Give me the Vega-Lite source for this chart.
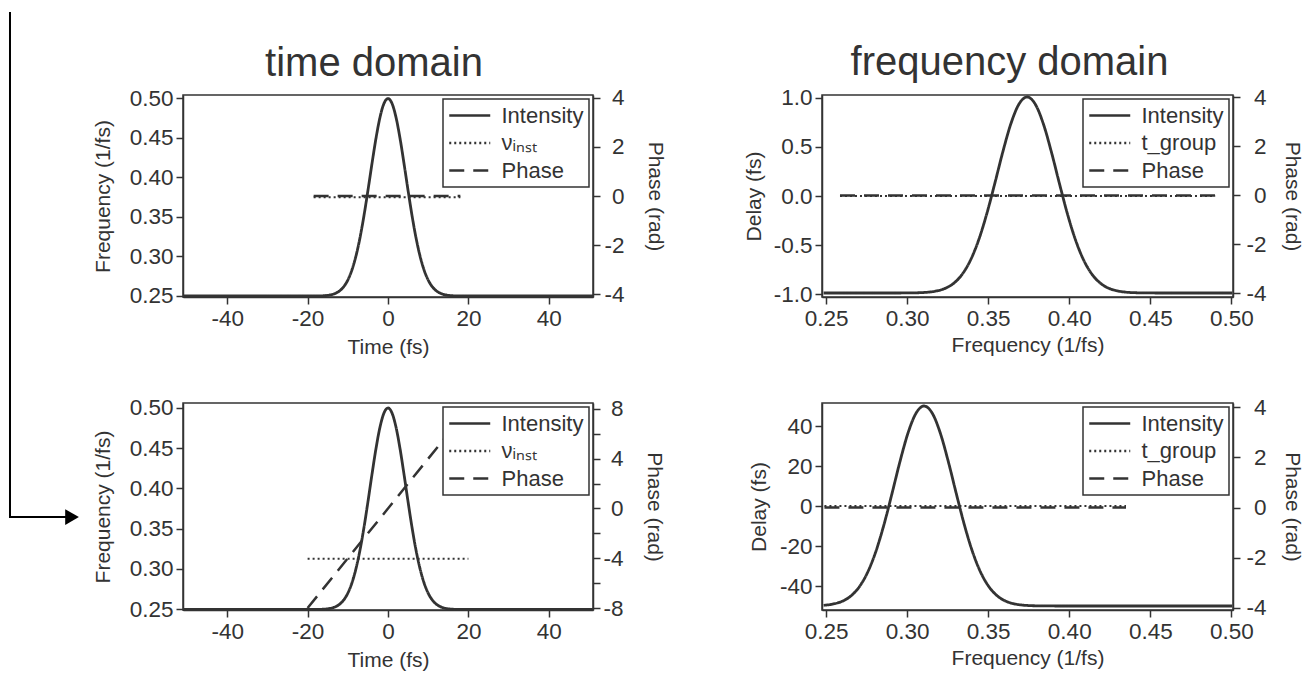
{
  "$schema": "https://vega.github.io/schema/vega-lite/v6.json",
  "padding": {"left": 5, "top": 7, "right": 0, "bottom": 0},
  "background": "white",
  "columns": 2,
  "spacing": {"row": 106, "column": 229},
  "bounds": "flush",
  "align": "each",
  "resolve": {"scale": {"strokeDash": "independent"}, "legend": {"strokeDash": "independent"}},
  "config": {
    "font": "Liberation Sans",
    "view": {"stroke": "#333", "strokeWidth": 1.5},
    "title": {"fontSize": 40, "fontWeight": "normal", "color": "#333", "anchor": "middle", "offset": 3},
    "axis": {"grid": false, "domainColor": "#333", "domainWidth": 1.5, "tickColor": "#333", "tickWidth": 1.5, "tickSize": 7, "labelFontSize": 22.5, "labelColor": "#333", "labelPadding": 3, "titleFontSize": 21, "titleFontWeight": "normal", "titleColor": "#333", "labelFlush": false, "labelOverlap": false, "labelExpr": "replace(datum.label, '−', '-')"},
    "legend": {"orient": "top-right", "offset": 4, "fillColor": "white", "strokeColor": "#333", "strokeWidth": 1.5, "padding": 5, "labelFontSize": 22, "labelColor": "#333", "symbolType": "M-1,0H3", "symbolSize": 420, "symbolStrokeWidth": 2.5, "symbolStrokeColor": "#333", "rowPadding": 4.5, "labelOffset": 30.5, "cornerRadius": 0, "labelLimit": 300},
    "line": {"color": "#333", "strokeWidth": 2.5}
  },
  "concat": [
    {
      "width": 410, "height": 202,
      "title": {"text": "time domain", "dx": -14},
      "encoding": {"x": {"field": "x", "type": "quantitative", "scale": {"domain": [-51, 51], "nice": false, "zero": false}, "axis": {"title": "Time (fs)", "values": [-40, -20, 0, 20, 40], "titlePadding": 7, "labelExpr": "replace(datum.label, '−', '-')"}}},
      "layer": [
        {
          "data": {"values": [{"x": -18.5, "y": 0, "series": "Phase"}, {"x": 18, "y": 0, "series": "Phase"}]},
          "mark": {"type": "line"},
          "encoding": {
            "y": {"field": "y", "type": "quantitative", "scale": {"domain": [-4.11, 4.11], "nice": false, "zero": false}, "axis": {"orient": "right", "title": "Phase (rad)", "values": [-4, -2, 0, 2, 4], "labelAlign": "right", "labelPadding": 24, "titlePadding": 20, "labelExpr": "replace(datum.label, '−', '-')"}},
            "strokeDash": {"field": "series", "type": "nominal", "scale": {"domain": ["Intensity", "νᵢₙₛₜ", "Phase"], "range": [[1, 0], [2, 3], [15, 9]]}, "legend": {"title": null, "zindex": 1}}
          }
        },
        {
          "data": {"values": [
            {"x": -51, "y": 0, "series": "Intensity"}, {"x": -30, "y": 0, "series": "Intensity"}, {"x": -20, "y": 0, "series": "Intensity"},
            {"x": -18, "y": 0.0003, "series": "Intensity"}, {"x": -16, "y": 0.0016, "series": "Intensity"}, {"x": -15, "y": 0.0035, "series": "Intensity"},
            {"x": -14, "y": 0.0072, "series": "Intensity"}, {"x": -13, "y": 0.0143, "series": "Intensity"}, {"x": -12, "y": 0.0267, "series": "Intensity"},
            {"x": -11, "y": 0.0477, "series": "Intensity"}, {"x": -10, "y": 0.0808, "series": "Intensity"}, {"x": -9, "y": 0.1304, "series": "Intensity"},
            {"x": -8, "y": 0.2, "series": "Intensity"}, {"x": -7, "y": 0.2916, "series": "Intensity"}, {"x": -6, "y": 0.4044, "series": "Intensity"},
            {"x": -5, "y": 0.5333, "series": "Intensity"}, {"x": -4, "y": 0.6687, "series": "Intensity"}, {"x": -3, "y": 0.7974, "series": "Intensity"},
            {"x": -2, "y": 0.9043, "series": "Intensity"}, {"x": -1, "y": 0.9752, "series": "Intensity"}, {"x": 0, "y": 1, "series": "Intensity"},
            {"x": 1, "y": 0.9752, "series": "Intensity"}, {"x": 2, "y": 0.9043, "series": "Intensity"}, {"x": 3, "y": 0.7974, "series": "Intensity"},
            {"x": 4, "y": 0.6687, "series": "Intensity"}, {"x": 5, "y": 0.5333, "series": "Intensity"}, {"x": 6, "y": 0.4044, "series": "Intensity"},
            {"x": 7, "y": 0.2916, "series": "Intensity"}, {"x": 8, "y": 0.2, "series": "Intensity"}, {"x": 9, "y": 0.1304, "series": "Intensity"},
            {"x": 10, "y": 0.0808, "series": "Intensity"}, {"x": 11, "y": 0.0477, "series": "Intensity"}, {"x": 12, "y": 0.0267, "series": "Intensity"},
            {"x": 13, "y": 0.0143, "series": "Intensity"}, {"x": 14, "y": 0.0072, "series": "Intensity"}, {"x": 15, "y": 0.0035, "series": "Intensity"},
            {"x": 16, "y": 0.0016, "series": "Intensity"}, {"x": 18, "y": 0.0003, "series": "Intensity"}, {"x": 20, "y": 0, "series": "Intensity"},
            {"x": 30, "y": 0, "series": "Intensity"}, {"x": 51, "y": 0, "series": "Intensity"}
          ]},
          "mark": {"type": "line", "interpolate": "monotone", "strokeWidth": 2.8},
          "encoding": {
            "y": {"field": "y", "type": "quantitative", "scale": {"domain": [-0.005, 1.018], "nice": false, "zero": false}, "axis": null},
            "strokeDash": {"field": "series", "type": "nominal", "scale": {"domain": ["Intensity", "νᵢₙₛₜ", "Phase"], "range": [[1, 0], [2, 3], [15, 9]]}, "legend": {"title": null, "zindex": 1}}
          }
        },
        {
          "data": {"values": [{"x": -18.5, "y": 0.375, "series": "νᵢₙₛₜ"}, {"x": 18, "y": 0.375, "series": "νᵢₙₛₜ"}]},
          "mark": {"type": "line", "strokeWidth": 2},
          "encoding": {
            "y": {"field": "y", "type": "quantitative", "scale": {"domain": [0.2487, 0.5044], "nice": false, "zero": false}, "axis": {"orient": "left", "title": "Frequency (1/fs)", "values": [0.25, 0.3, 0.35, 0.4, 0.45, 0.5], "format": ".2f", "titlePadding": 16}},
            "strokeDash": {"field": "series", "type": "nominal", "scale": {"domain": ["Intensity", "νᵢₙₛₜ", "Phase"], "range": [[1, 0], [2, 3], [15, 9]]}, "legend": {"title": null, "zindex": 1}}
          }
        }
      ],
      "resolve": {"scale": {"y": "independent"}}
    },
    {
      "width": 411, "height": 202,
      "title": {"text": "frequency domain", "dx": -18},
      "encoding": {"x": {"field": "x", "type": "quantitative", "scale": {"domain": [0.2475, 0.501], "nice": false, "zero": false}, "axis": {"title": "Frequency (1/fs)", "values": [0.25, 0.3, 0.35, 0.4, 0.45, 0.5], "format": ".2f", "titlePadding": 5}}},
      "layer": [
        {
          "data": {"values": [{"x": 0.2586, "y": 0, "series": "Phase"}, {"x": 0.49, "y": 0, "series": "Phase"}]},
          "mark": {"type": "line"},
          "encoding": {
            "y": {"field": "y", "type": "quantitative", "scale": {"domain": [-4.15, 4.1], "nice": false, "zero": false}, "axis": {"orient": "right", "title": "Phase (rad)", "values": [-4, -2, 0, 2, 4], "labelAlign": "right", "labelPadding": 26, "titlePadding": 15, "labelExpr": "replace(datum.label, '−', '-')"}},
            "strokeDash": {"field": "series", "type": "nominal", "scale": {"domain": ["Intensity", "t_group", "Phase"], "range": [[1, 0], [2, 3], [15, 9]]}, "legend": {"title": null, "zindex": 1}}
          }
        },
        {
          "data": {"values": [
            {"x": 0.2485, "y": 0, "series": "Intensity"}, {"x": 0.29, "y": 0, "series": "Intensity"}, {"x": 0.299, "y": 0.0003, "series": "Intensity"},
            {"x": 0.304, "y": 0.0008, "series": "Intensity"}, {"x": 0.309, "y": 0.002, "series": "Intensity"}, {"x": 0.314, "y": 0.0051, "series": "Intensity"},
            {"x": 0.319, "y": 0.0119, "series": "Intensity"}, {"x": 0.324, "y": 0.0256, "series": "Intensity"}, {"x": 0.329, "y": 0.0514, "series": "Intensity"},
            {"x": 0.334, "y": 0.0959, "series": "Intensity"}, {"x": 0.339, "y": 0.1661, "series": "Intensity"}, {"x": 0.344, "y": 0.2674, "series": "Intensity"},
            {"x": 0.349, "y": 0.4002, "series": "Intensity"}, {"x": 0.354, "y": 0.5565, "series": "Intensity"}, {"x": 0.359, "y": 0.7192, "series": "Intensity"},
            {"x": 0.364, "y": 0.8637, "series": "Intensity"}, {"x": 0.369, "y": 0.964, "series": "Intensity"}, {"x": 0.374, "y": 1, "series": "Intensity"},
            {"x": 0.379, "y": 0.964, "series": "Intensity"}, {"x": 0.384, "y": 0.8637, "series": "Intensity"}, {"x": 0.389, "y": 0.7192, "series": "Intensity"},
            {"x": 0.394, "y": 0.5565, "series": "Intensity"}, {"x": 0.399, "y": 0.4002, "series": "Intensity"}, {"x": 0.404, "y": 0.2674, "series": "Intensity"},
            {"x": 0.409, "y": 0.1661, "series": "Intensity"}, {"x": 0.414, "y": 0.0959, "series": "Intensity"}, {"x": 0.419, "y": 0.0514, "series": "Intensity"},
            {"x": 0.424, "y": 0.0256, "series": "Intensity"}, {"x": 0.429, "y": 0.0119, "series": "Intensity"}, {"x": 0.434, "y": 0.0051, "series": "Intensity"},
            {"x": 0.439, "y": 0.002, "series": "Intensity"}, {"x": 0.444, "y": 0.0008, "series": "Intensity"}, {"x": 0.449, "y": 0.0003, "series": "Intensity"},
            {"x": 0.46, "y": 0, "series": "Intensity"}, {"x": 0.5005, "y": 0, "series": "Intensity"}
          ]},
          "mark": {"type": "line", "interpolate": "monotone", "strokeWidth": 2.8},
          "encoding": {
            "y": {"field": "y", "type": "quantitative", "scale": {"domain": [-0.0204, 1.0102], "nice": false, "zero": false}, "axis": null},
            "strokeDash": {"field": "series", "type": "nominal", "scale": {"domain": ["Intensity", "t_group", "Phase"], "range": [[1, 0], [2, 3], [15, 9]]}, "legend": {"title": null, "zindex": 1}}
          }
        },
        {
          "data": {"values": [{"x": 0.2586, "y": 0, "series": "t_group"}, {"x": 0.49, "y": 0, "series": "t_group"}]},
          "mark": {"type": "line", "strokeWidth": 2},
          "encoding": {
            "y": {"field": "y", "type": "quantitative", "scale": {"domain": [-1.03, 1.03], "nice": false, "zero": false}, "axis": {"orient": "left", "title": "Delay (fs)", "values": [-1, -0.5, 0, 0.5, 1], "format": ".1f", "titlePadding": 9}},
            "strokeDash": {"field": "series", "type": "nominal", "scale": {"domain": ["Intensity", "t_group", "Phase"], "range": [[1, 0], [2, 3], [15, 9]]}, "legend": {"title": null, "zindex": 1}}
          }
        }
      ],
      "resolve": {"scale": {"y": "independent"}}
    },
    {
      "width": 410, "height": 207,
      "encoding": {"x": {"field": "x", "type": "quantitative", "scale": {"domain": [-51, 51], "nice": false, "zero": false}, "axis": {"title": "Time (fs)", "values": [-40, -20, 0, 20, 40], "titlePadding": 7, "labelExpr": "replace(datum.label, '−', '-')"}}},
      "layer": [
        {
          "data": {"values": [{"x": -20, "y": -8, "series": "Phase"}, {"x": -10, "y": -4, "series": "Phase"}, {"x": 0, "y": 0, "series": "Phase"}, {"x": 10, "y": 4, "series": "Phase"}, {"x": 20, "y": 8, "series": "Phase"}]},
          "mark": {"type": "line"},
          "encoding": {
            "y": {"field": "y", "type": "quantitative", "scale": {"domain": [-8.16, 8.48], "nice": false, "zero": false}, "axis": {"orient": "right", "title": "Phase (rad)", "values": [-8, -6, -4, -2, 0, 2, 4, 6, 8], "labelExpr": "datum.value % 4 === 0 ? replace(datum.label, '−', '-') : ''", "labelAlign": "right", "labelPadding": 23, "titlePadding": 20}},
            "strokeDash": {"field": "series", "type": "nominal", "scale": {"domain": ["Intensity", "νᵢₙₛₜ", "Phase"], "range": [[1, 0], [2, 3], [15, 9]]}, "legend": {"title": null, "zindex": 1}}
          }
        },
        {
          "data": {"values": [
            {"x": -51, "y": 0, "series": "Intensity"}, {"x": -30, "y": 0, "series": "Intensity"}, {"x": -20, "y": 0, "series": "Intensity"},
            {"x": -18, "y": 0.0003, "series": "Intensity"}, {"x": -16, "y": 0.0016, "series": "Intensity"}, {"x": -15, "y": 0.0035, "series": "Intensity"},
            {"x": -14, "y": 0.0072, "series": "Intensity"}, {"x": -13, "y": 0.0143, "series": "Intensity"}, {"x": -12, "y": 0.0267, "series": "Intensity"},
            {"x": -11, "y": 0.0477, "series": "Intensity"}, {"x": -10, "y": 0.0808, "series": "Intensity"}, {"x": -9, "y": 0.1304, "series": "Intensity"},
            {"x": -8, "y": 0.2, "series": "Intensity"}, {"x": -7, "y": 0.2916, "series": "Intensity"}, {"x": -6, "y": 0.4044, "series": "Intensity"},
            {"x": -5, "y": 0.5333, "series": "Intensity"}, {"x": -4, "y": 0.6687, "series": "Intensity"}, {"x": -3, "y": 0.7974, "series": "Intensity"},
            {"x": -2, "y": 0.9043, "series": "Intensity"}, {"x": -1, "y": 0.9752, "series": "Intensity"}, {"x": 0, "y": 1, "series": "Intensity"},
            {"x": 1, "y": 0.9752, "series": "Intensity"}, {"x": 2, "y": 0.9043, "series": "Intensity"}, {"x": 3, "y": 0.7974, "series": "Intensity"},
            {"x": 4, "y": 0.6687, "series": "Intensity"}, {"x": 5, "y": 0.5333, "series": "Intensity"}, {"x": 6, "y": 0.4044, "series": "Intensity"},
            {"x": 7, "y": 0.2916, "series": "Intensity"}, {"x": 8, "y": 0.2, "series": "Intensity"}, {"x": 9, "y": 0.1304, "series": "Intensity"},
            {"x": 10, "y": 0.0808, "series": "Intensity"}, {"x": 11, "y": 0.0477, "series": "Intensity"}, {"x": 12, "y": 0.0267, "series": "Intensity"},
            {"x": 13, "y": 0.0143, "series": "Intensity"}, {"x": 14, "y": 0.0072, "series": "Intensity"}, {"x": 15, "y": 0.0035, "series": "Intensity"},
            {"x": 16, "y": 0.0016, "series": "Intensity"}, {"x": 18, "y": 0.0003, "series": "Intensity"}, {"x": 20, "y": 0, "series": "Intensity"},
            {"x": 30, "y": 0, "series": "Intensity"}, {"x": 51, "y": 0, "series": "Intensity"}
          ]},
          "mark": {"type": "line", "interpolate": "monotone", "strokeWidth": 2.8},
          "encoding": {
            "y": {"field": "y", "type": "quantitative", "scale": {"domain": [-0.0025, 1.0248], "nice": false, "zero": false}, "axis": null},
            "strokeDash": {"field": "series", "type": "nominal", "scale": {"domain": ["Intensity", "νᵢₙₛₜ", "Phase"], "range": [[1, 0], [2, 3], [15, 9]]}, "legend": {"title": null, "zindex": 1}}
          }
        },
        {
          "layer": [
            {
              "data": {"values": [{"x": -20, "y": 0.3125, "series": "νᵢₙₛₜ"}, {"x": 20, "y": 0.3125, "series": "νᵢₙₛₜ"}]},
              "mark": {"type": "line", "strokeWidth": 2},
              "encoding": {
                "y": {"field": "y", "type": "quantitative", "scale": {"domain": [0.2488, 0.5062], "nice": false, "zero": false}, "axis": {"orient": "left", "title": "Frequency (1/fs)", "values": [0.25, 0.3, 0.35, 0.4, 0.45, 0.5], "format": ".2f", "titlePadding": 16}},
                "strokeDash": {"field": "series", "type": "nominal", "scale": {"domain": ["Intensity", "νᵢₙₛₜ", "Phase"], "range": [[1, 0], [2, 3], [15, 9]]}, "legend": {"title": null, "zindex": 1}}
              }
            },
            {
              "data": {"values": [{"x": -94.04, "y": 0.9924, "o": 0}, {"x": -94.04, "y": 0.3644, "o": 1}, {"x": -80, "y": 0.3644, "o": 2}]},
              "mark": {"type": "line", "color": "black", "strokeWidth": 2, "clip": false},
              "encoding": {"y": {"field": "y", "type": "quantitative", "title": "Frequency (1/fs)"}, "order": {"field": "o", "type": "quantitative"}}
            },
            {
              "data": {"values": [{"x": -78.6, "y": 0.3644}]},
              "mark": {"type": "point", "shape": "triangle-right", "filled": true, "color": "black", "opacity": 1, "size": 250, "clip": false},
              "encoding": {"y": {"field": "y", "type": "quantitative", "title": "Frequency (1/fs)"}}
            }
          ]
        }
      ],
      "resolve": {"scale": {"y": "independent"}}
    },
    {
      "width": 411, "height": 207,
      "encoding": {"x": {"field": "x", "type": "quantitative", "scale": {"domain": [0.2475, 0.501], "nice": false, "zero": false}, "axis": {"title": "Frequency (1/fs)", "values": [0.25, 0.3, 0.35, 0.4, 0.45, 0.5], "format": ".2f", "titlePadding": 5}}},
      "layer": [
        {
          "data": {"values": [{"x": 0.249, "y": 0, "series": "Phase"}, {"x": 0.435, "y": 0, "series": "Phase"}]},
          "mark": {"type": "line"},
          "encoding": {
            "y": {"field": "y", "type": "quantitative", "scale": {"domain": [-4.08, 4.16], "nice": false, "zero": false}, "axis": {"orient": "right", "title": "Phase (rad)", "values": [-4, -2, 0, 2, 4], "labelAlign": "right", "labelPadding": 26, "titlePadding": 15, "labelExpr": "replace(datum.label, '−', '-')"}},
            "strokeDash": {"field": "series", "type": "nominal", "scale": {"domain": ["Intensity", "t_group", "Phase"], "range": [[1, 0], [2, 3], [15, 9]]}, "legend": {"title": null, "zindex": 1}}
          }
        },
        {
          "data": {"values": [
            {"x": 0.2485, "y": 0.0036, "series": "Intensity"}, {"x": 0.2505, "y": 0.0051, "series": "Intensity"}, {"x": 0.2555, "y": 0.0119, "series": "Intensity"},
            {"x": 0.2605, "y": 0.0256, "series": "Intensity"}, {"x": 0.2655, "y": 0.0514, "series": "Intensity"}, {"x": 0.2705, "y": 0.0959, "series": "Intensity"},
            {"x": 0.2755, "y": 0.1661, "series": "Intensity"}, {"x": 0.2805, "y": 0.2674, "series": "Intensity"}, {"x": 0.2855, "y": 0.4002, "series": "Intensity"},
            {"x": 0.2905, "y": 0.5565, "series": "Intensity"}, {"x": 0.2955, "y": 0.7192, "series": "Intensity"}, {"x": 0.3005, "y": 0.8637, "series": "Intensity"},
            {"x": 0.3055, "y": 0.964, "series": "Intensity"}, {"x": 0.3105, "y": 1, "series": "Intensity"}, {"x": 0.3155, "y": 0.964, "series": "Intensity"},
            {"x": 0.3205, "y": 0.8637, "series": "Intensity"}, {"x": 0.3255, "y": 0.7192, "series": "Intensity"}, {"x": 0.3305, "y": 0.5565, "series": "Intensity"},
            {"x": 0.3355, "y": 0.4002, "series": "Intensity"}, {"x": 0.3405, "y": 0.2674, "series": "Intensity"}, {"x": 0.3455, "y": 0.1661, "series": "Intensity"},
            {"x": 0.3505, "y": 0.0959, "series": "Intensity"}, {"x": 0.3555, "y": 0.0514, "series": "Intensity"}, {"x": 0.3605, "y": 0.0256, "series": "Intensity"},
            {"x": 0.3655, "y": 0.0119, "series": "Intensity"}, {"x": 0.3705, "y": 0.0051, "series": "Intensity"}, {"x": 0.3755, "y": 0.002, "series": "Intensity"},
            {"x": 0.3805, "y": 0.0008, "series": "Intensity"}, {"x": 0.3855, "y": 0.0003, "series": "Intensity"}, {"x": 0.4, "y": 0, "series": "Intensity"},
            {"x": 0.5005, "y": 0, "series": "Intensity"}
          ]},
          "mark": {"type": "line", "interpolate": "monotone", "strokeWidth": 2.8},
          "encoding": {
            "y": {"field": "y", "type": "quantitative", "scale": {"domain": [-0.02, 1.015], "nice": false, "zero": false}, "axis": null},
            "strokeDash": {"field": "series", "type": "nominal", "scale": {"domain": ["Intensity", "t_group", "Phase"], "range": [[1, 0], [2, 3], [15, 9]]}, "legend": {"title": null, "zindex": 1}}
          }
        },
        {
          "data": {"values": [{"x": 0.249, "y": 0, "series": "t_group"}, {"x": 0.435, "y": 0, "series": "t_group"}]},
          "mark": {"type": "line", "strokeWidth": 2},
          "encoding": {
            "y": {"field": "y", "type": "quantitative", "scale": {"domain": [-52, 51.5], "nice": false, "zero": false}, "axis": {"orient": "left", "title": "Delay (fs)", "values": [-40, -20, 0, 20, 40], "titlePadding": 10, "labelExpr": "replace(datum.label, '−', '-')"}},
            "strokeDash": {"field": "series", "type": "nominal", "scale": {"domain": ["Intensity", "t_group", "Phase"], "range": [[1, 0], [2, 3], [15, 9]]}, "legend": {"title": null, "zindex": 1}}
          }
        }
      ],
      "resolve": {"scale": {"y": "independent"}}
    }
  ]
}
